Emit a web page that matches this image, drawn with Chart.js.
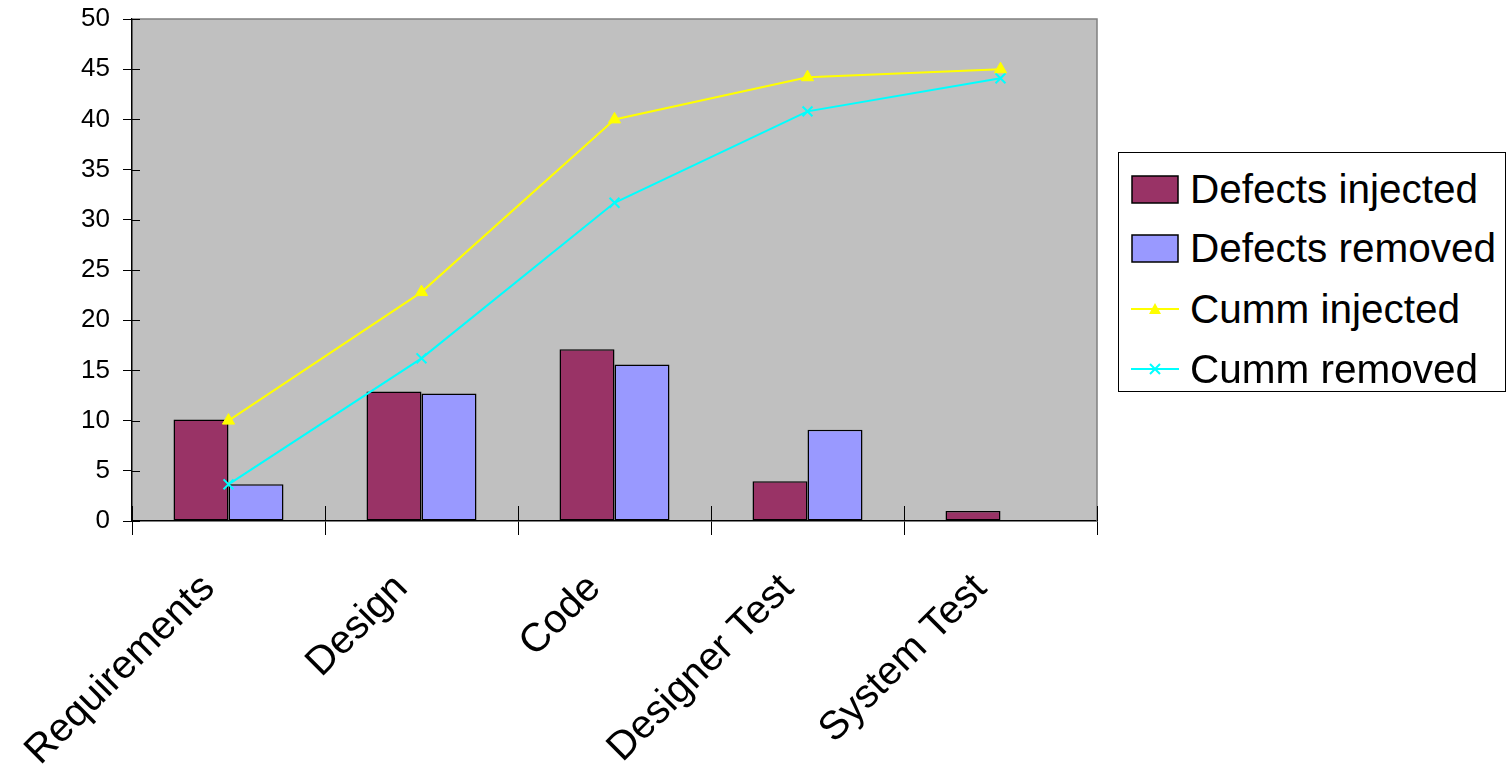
<!DOCTYPE html>
<html>
<head>
<meta charset="utf-8">
<script src="https://cdn.jsdelivr.net/npm/chart.js@4.4.0/dist/chart.umd.min.js"></script>
<style>
	body { margin: 0; background: #fff; }
	#wrap { position: relative; width: 1508px; height: 771px; }
	#legend {
		position: absolute; left: 1118px; top: 152px; width: 388px; height: 240px;
		border: 1px solid #000; background: #fff; box-sizing: border-box;
		font-family: "Liberation Sans", Arial, sans-serif; font-size: 40.5px; color: #000;
	}
	.item { position: absolute; left: 0; height: 60px; line-height: 60px; white-space: nowrap; }
	.item svg { position: absolute; left: 12px; top: 16px; }
	.item span { position: absolute; left: 71px; top: 0; }
</style>
</head>
<body>
<div id="wrap">
	<canvas id="defectChart" width="1508" height="771"></canvas>
	<div id="legend"></div>
</div>
<script>
var phases = ['Requirements', 'Design', 'Code', 'Designer Test', 'System Test'];
var injected = [10.1, 12.9, 17.1, 3.95, 1.0];
var removed = [3.65, 12.7, 15.6, 9.1, 0];
var cummInjected = [10.0, 22.8, 40.0, 44.2, 45.0];
var cummRemoved = [3.65, 16.2, 31.7, 40.8, 44.1];
var yTicks = [0, 5, 10, 15, 20, 25, 30, 35, 40, 45, 50];

var plum = '#993366';
var periwinkle = '#9999FF';
var yellow = '#FFFF00';
var cyan = '#00FFFF';
var font = '"Liberation Sans", Arial, sans-serif';

document.addEventListener('DOMContentLoaded', function() {
	initChart();
	buildLegend();
});

// grey plot area, grey top/right frame and the ticks that poke into the plot
var plotFrame = {
	id: 'plotFrame',
	beforeDraw: function(chart) {
		var ctx = chart.ctx;
		var a = chart.chartArea;
		ctx.save();
		ctx.fillStyle = '#C0C0C0';
		ctx.fillRect(a.left, a.top, a.right - a.left, a.bottom - a.top);
		ctx.restore();
	},
	afterDraw: function(chart) {
		var ctx = chart.ctx;
		var a = chart.chartArea;
		var x = chart.scales.x;
		var y = chart.scales.y;
		ctx.save();
		ctx.lineWidth = 1.5;
		ctx.strokeStyle = '#808080';
		ctx.beginPath();
		ctx.moveTo(a.left, a.top);
		ctx.lineTo(a.right, a.top);
		ctx.lineTo(a.right, a.bottom);
		ctx.stroke();

		ctx.strokeStyle = '#000';
		ctx.lineWidth = 1;
		ctx.beginPath();
		for(var i = 0; i < yTicks.length; i++) {
			var py = Math.round(y.getPixelForValue(yTicks[i])) + 0.5;
			ctx.moveTo(a.left, py);
			ctx.lineTo(a.left + 8, py);
		}
		for(var j = 0; j <= phases.length; j++) {
			var px = Math.round(x.getPixelForValue(j - 0.5)) + 0.5;
			ctx.moveTo(px, a.bottom);
			ctx.lineTo(px, a.bottom - 15);
		}
		ctx.stroke();
		ctx.restore();
	}
};

function initChart() {
	var context = document.getElementById('defectChart').getContext('2d');

	var config = {
		type: 'bar',
		data: {
			labels: phases,
			datasets: [
				{
					type: 'line',
					label: 'Cumm injected',
					data: cummInjected,
					borderColor: yellow,
					backgroundColor: yellow,
					borderWidth: 2,
					pointStyle: 'triangle',
					pointRadius: 7,
					pointBorderWidth: 1,
					order: 0,
				},
				{
					type: 'line',
					label: 'Cumm removed',
					data: cummRemoved,
					borderColor: cyan,
					backgroundColor: cyan,
					borderWidth: 2,
					pointStyle: 'crossRot',
					pointRadius: 7,
					pointBorderWidth: 2,
					order: 0,
				},
				{
					label: 'Defects injected',
					data: injected,
					backgroundColor: plum,
					borderColor: '#000',
					borderWidth: 1.5,
					borderSkipped: false,
					barPercentage: 1,
					categoryPercentage: 0.57,
					order: 1,
				},
				{
					label: 'Defects removed',
					data: removed,
					backgroundColor: periwinkle,
					borderColor: '#000',
					borderWidth: 1.5,
					borderSkipped: false,
					barPercentage: 1,
					categoryPercentage: 0.57,
					order: 1,
				}
			],
		},
		options: {
			responsive: false,
			animation: false,
			devicePixelRatio: 1,
			layout: {
				padding: { top: 19, right: 411, left: 0, bottom: 0 },
			},
			plugins: {
				legend: { display: false },
				tooltip: { enabled: false },
			},
			scales: {
				x: {
					offset: true,
					grid: {
						offset: true,
						drawOnChartArea: false,
						drawTicks: true,
						tickLength: 14,
						color: '#000',
					},
					border: { color: '#000', width: 1.5 },
					ticks: {
						color: '#000',
						font: { family: font, size: 40 },
						minRotation: 45,
						maxRotation: 45,
						padding: 30,
						labelOffset: -20,
						autoSkip: false,
					},
					afterFit: function(scale) {
						scale.height = 250;
						scale.paddingLeft = 0;
						scale.paddingRight = 0;
					},
				},
				y: {
					min: 0,
					max: 50,
					grid: {
						drawOnChartArea: false,
						drawTicks: true,
						tickLength: 9,
						color: '#000',
					},
					border: { color: '#000', width: 1.5 },
					ticks: {
						color: '#000',
						stepSize: 5,
						padding: 13,
						font: { family: font, size: 26 },
					},
					afterFit: function(scale) {
						scale.width = 132;
						scale.paddingTop = 0;
						scale.paddingBottom = 0;
					},
				},
			},
		},
		plugins: [plotFrame],
	};

	new Chart(context, config);
}

function swatch(kind, color) {
	if(kind == 'bar') {
		return '<svg width="48" height="30"><rect x="1" y="1" width="46" height="27" fill="' + color +
			'" stroke="#000" stroke-width="1.5"/></svg>';
	}
	var mark;
	if(kind == 'triangle') {
		mark = '<polygon points="24,8 30,19 18,19" fill="' + color + '"/>';
	} else {
		mark = '<path d="M19,9 L29,19 M29,9 L19,19" stroke="' + color + '" stroke-width="2"/>';
	}
	return '<svg width="48" height="30"><line x1="0" y1="14" x2="48" y2="14" stroke="' + color +
		'" stroke-width="2"/>' + mark + '</svg>';
}

function buildLegend() {
	var names = ['Defects injected', 'Defects removed', 'Cumm injected', 'Cumm removed'];
	var kinds = ['bar', 'bar', 'triangle', 'cross'];
	var colors = [plum, periwinkle, yellow, cyan];
	var tops = [6, 65, 126, 186];
	var html = '';

	for(var i = 0; i < names.length; i++) {
		html += '<div class="item" style="top:' + tops[i] + 'px">' + swatch(kinds[i], colors[i]) +
			'<span>' + names[i] + '</span></div>';
	}

	document.getElementById('legend').innerHTML = html;
}
</script>
</body>
</html>
